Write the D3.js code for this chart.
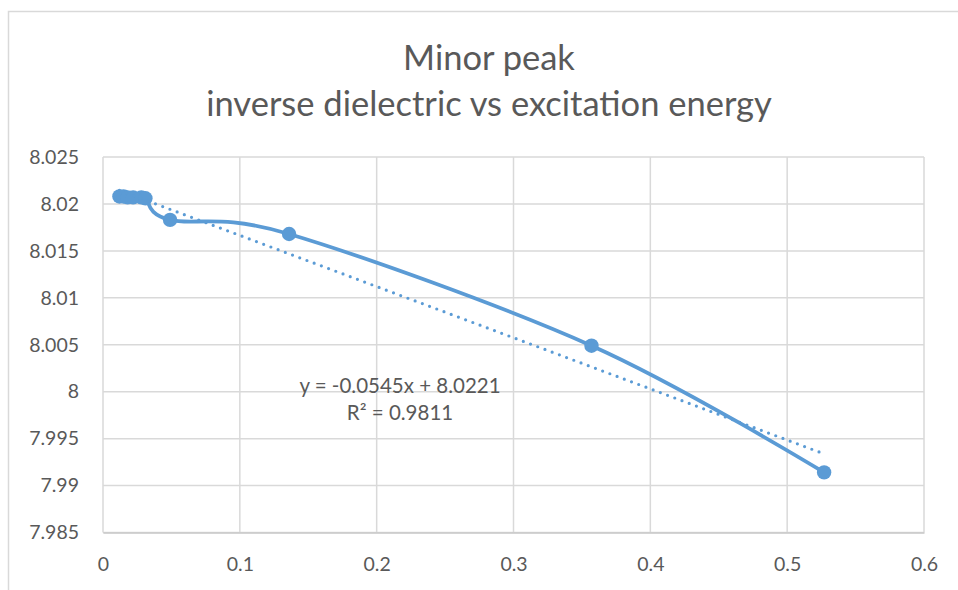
<!DOCTYPE html>
<html>
<head>
<title>Minor peak</title>
<script src="https://d3js.org/d3.v7.min.js"></script>
<style>
  body { margin: 0; background: #fff; }
  text { font-family: Lato, "Open Sans", sans-serif; fill: #595959; }
</style>
</head>
<body>
<svg width="958" height="590"></svg>
<script>
// values
var energy = [0.012, 0.015, 0.018, 0.022, 0.028, 0.031, 0.049, 0.136, 0.357, 0.527];
var invDielectric = [8.0208, 8.0208, 8.0207, 8.0207, 8.0207, 8.0206, 8.0183, 8.0168, 8.0049, 7.9914];
var xTicks = [0, 0.1, 0.2, 0.3, 0.4, 0.5, 0.6];
var yTicks = [7.985, 7.99, 7.995, 8, 8.005, 8.01, 8.015, 8.02, 8.025];
var trendSlope = -0.0545, trendIntercept = 8.0221;
var trendText = ["y = -0.0545x + 8.0221", "R\u00b2 = 0.9811"];
var titleLines = ["Minor peak", "inverse dielectric vs excitation energy"];

var svg = d3.select("svg");
var plot = { left: 103, right: 924, top: 157, bottom: 532.5 };

// chart area outline (right and bottom fall outside the picture)
svg.append("rect")
    .attr("x", 8.5).attr("y", 11.5)
    .attr("width", 1000).attr("height", 1000)
    .attr("fill", "none")
    .attr("stroke", "#d9d9d9")
    .attr("stroke-width", 1.5);

var x = d3.scaleLinear().domain([0, 0.6]).range([plot.left, plot.right]);
var y = d3.scaleLinear().domain([7.985, 8.025]).range([plot.bottom, plot.top]);

// gridlines
svg.append("g").selectAll("line")
    .data(yTicks).enter().append("line")
    .attr("x1", plot.left).attr("x2", plot.right)
    .attr("y1", d => y(d)).attr("y2", d => y(d))
    .attr("stroke", "#d9d9d9").attr("stroke-width", 1.5);
svg.append("g").selectAll("line")
    .data(xTicks).enter().append("line")
    .attr("y1", plot.top).attr("y2", plot.bottom)
    .attr("x1", d => x(d)).attr("x2", d => x(d))
    .attr("stroke", "#d9d9d9").attr("stroke-width", 1.5);

// axes
var xAxis = svg.append("g")
    .attr("transform", "translate(0," + plot.bottom + ")")
    .call(d3.axisBottom(x).tickValues(xTicks).tickSize(0).tickPadding(25).tickFormat(d => d));
xAxis.select(".domain").attr("stroke", "#c8c8c8").attr("stroke-width", 1.5);

var yAxis = svg.append("g")
    .attr("transform", "translate(" + plot.left + ",0)")
    .call(d3.axisLeft(y).tickValues(yTicks).tickSize(0).tickPadding(24).tickFormat(d => d));
yAxis.select(".domain").remove();

svg.selectAll(".tick text")
    .style("font-family", "Lato, 'Open Sans', sans-serif")
    .style("font-size", "19.5px")
    .attr("fill", "#595959");

// title
svg.append("g").selectAll("text")
    .data(titleLines).enter().append("text")
    .attr("x", 489)
    .attr("y", (d, i) => 69.5 + i * 46)
    .attr("text-anchor", "middle")
    .style("font-size", "34.5px")
    .text(d => d);

var pts = energy.map((e, i) => [e, invDielectric[i]]);

// smoothed series line
var line = d3.line()
    .x(d => x(d[0]))
    .y(d => y(d[1]))
    .curve(d3.curveCardinal.tension(0));

svg.append("path")
    .datum(pts)
    .attr("d", line)
    .attr("fill", "none")
    .attr("stroke", "#5b9bd5")
    .attr("stroke-width", 3.8)
    .attr("stroke-linejoin", "round")
    .attr("stroke-linecap", "round");

svg.append("g").selectAll("circle")
    .data(pts).enter().append("circle")
    .attr("cx", d => x(d[0]))
    .attr("cy", d => y(d[1]))
    .attr("r", 7.2)
    .attr("fill", "#5b9bd5");

// linear trendline
var xMin = d3.min(energy), xMax = d3.max(energy);
svg.append("path")
    .datum([xMin, xMax].map(v => [v, trendSlope * v + trendIntercept]))
    .attr("d", d3.line().x(d => x(d[0])).y(d => y(d[1])))
    .attr("fill", "none")
    .attr("stroke", "#5b9bd5")
    .attr("stroke-width", 3.2)
    .attr("stroke-linecap", "round")
    .attr("stroke-dasharray", "0,7.7");

svg.append("g").selectAll("text")
    .data(trendText).enter().append("text")
    .attr("x", 400)
    .attr("y", (d, i) => 393 + i * 27)
    .attr("text-anchor", "middle")
    .style("font-size", "20.5px")
    .text(d => d);
</script>
</body>
</html>
